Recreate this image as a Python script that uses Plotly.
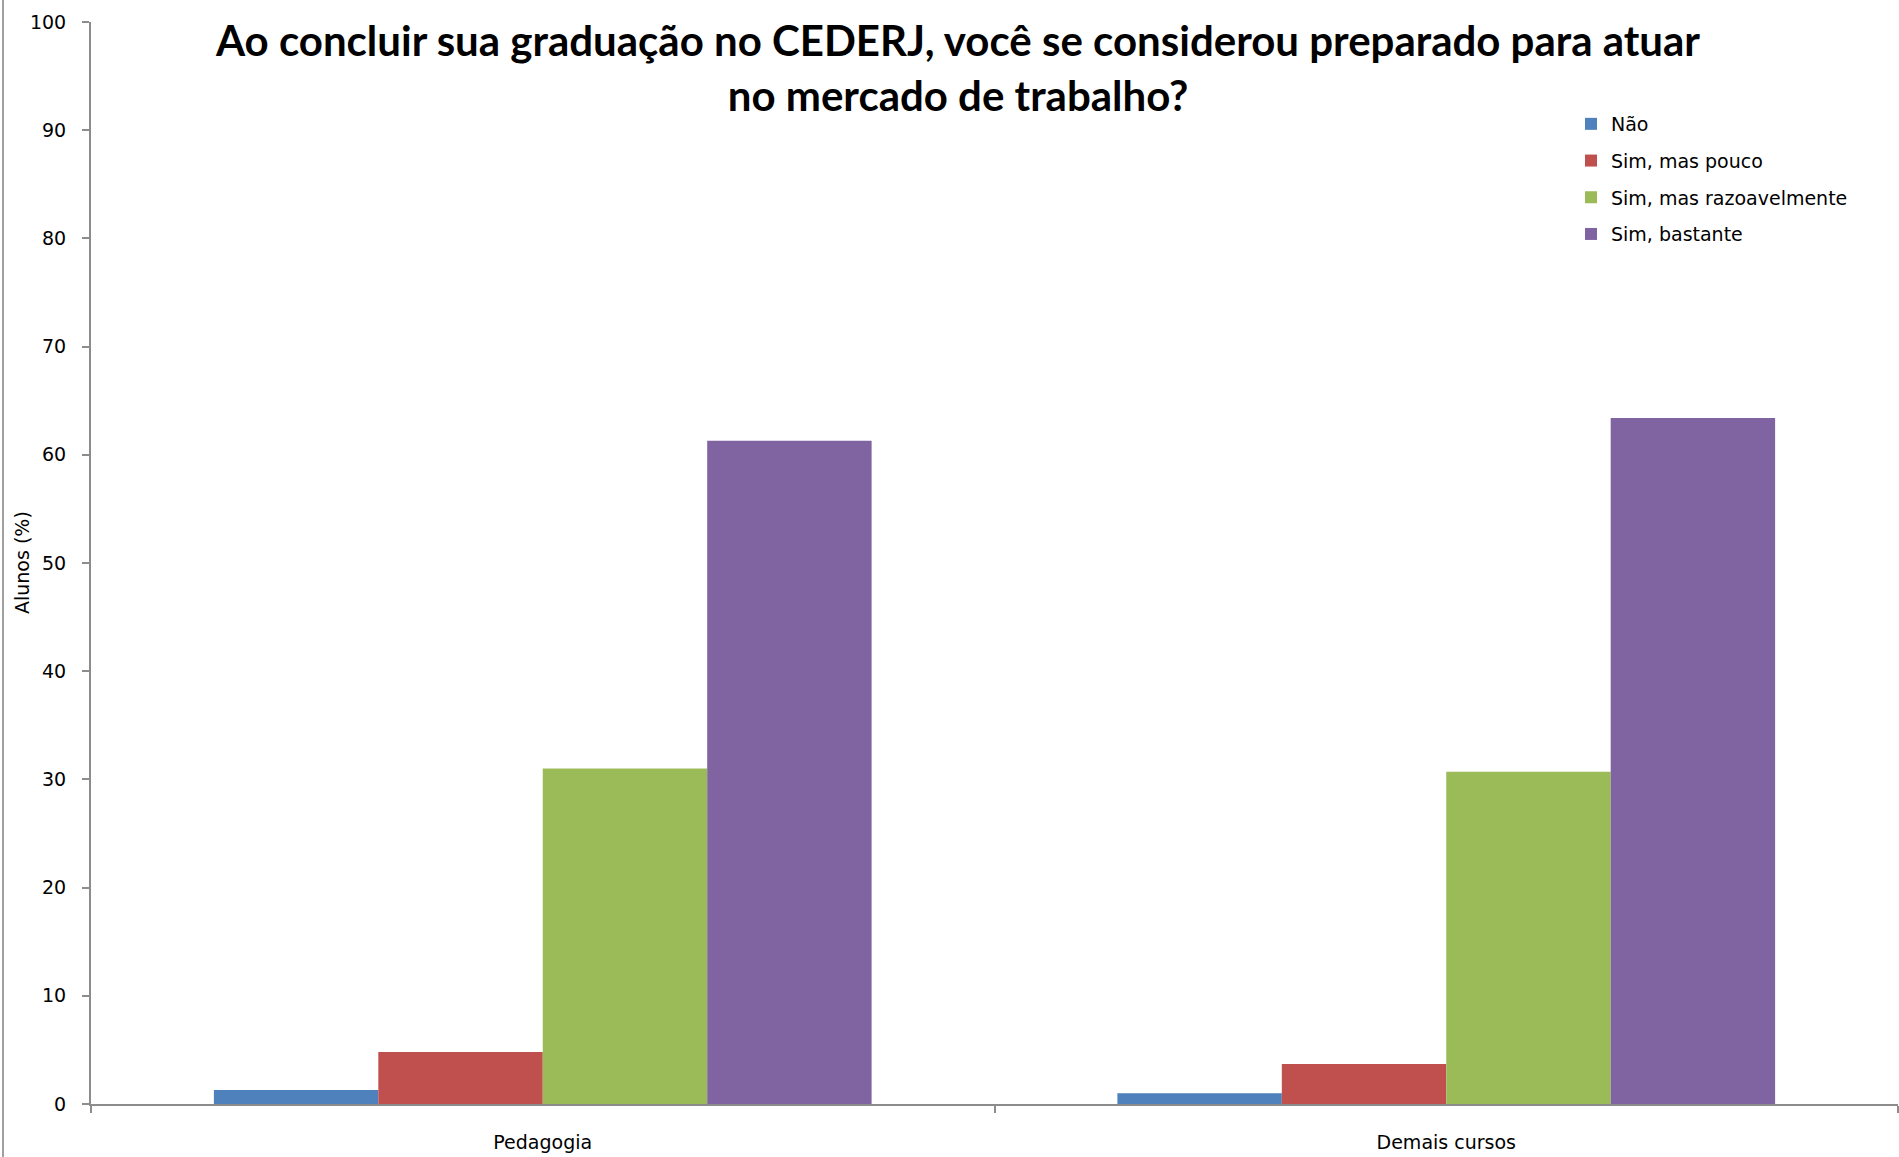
import plotly.graph_objects as go

categories = ["Pedagogia", "Demais cursos"]
series_names = ["Não", "Sim, mas pouco", "Sim, mas razoavelmente", "Sim, bastante"]
nao = [1.3, 1.0]
sim_pouco = [4.8, 3.7]
sim_razoavel = [31.0, 30.7]
sim_bastante = [61.3, 63.4]
colors = ["#4F81BD", "#C0504D", "#9BBB59", "#8064A2"]
y_ticks = list(range(0, 101, 10))

title_text = ("Ao concluir sua graduação no CEDERJ, você se considerou preparado para atuar"
              "<br>no mercado de trabalho?")

fig = go.Figure()
for i, (name, vals) in enumerate(zip(series_names, [nao, sim_pouco, sim_razoavel, sim_bastante])):
    fig.add_trace(go.Bar(
        x=categories, y=vals, name=name,
        marker=dict(color=colors[i], line=dict(width=0)),
        legendgroup=f"g{i}",
    ))

W, H = 1899, 1157
L, R, T, B = 91, 1, 22, 53
PW, PH = W - L - R, H - T - B


def px_x(px):
    return (px - L) / PW


def px_y(py):
    return (H - B - py) / PH


BODY_FONT = "DejaVu Sans, Verdana, sans-serif"

fig.update_layout(
    width=W, height=H,
    margin=dict(l=L, r=R, t=T, b=B, autoexpand=False),
    paper_bgcolor="white", plot_bgcolor="white",
    barmode="group", bargap=0.272, bargroupgap=0,
    font=dict(family=BODY_FONT, size=18, color="#000000"),
    showlegend=True,
    legend=dict(
        x=px_x(1571), xanchor="left", y=px_y(105), yanchor="top",
        font=dict(family=BODY_FONT, size=19, color="#000000"),
        tracegroupgap=9,
        bgcolor="rgba(0,0,0,0)",
        itemwidth=30,
    ),
    annotations=[
        dict(
            text=title_text, showarrow=False,
            xref="paper", yref="paper",
            x=px_x(957), xanchor="center", y=px_y(13), yanchor="top",
            align="center",
            font=dict(family="Lato, Liberation Sans, sans-serif", size=42, color="#000000", weight="bold"),
        ),
        dict(
            text="Alunos (%)", showarrow=False, textangle=-90,
            xref="paper", yref="paper",
            x=px_x(22), xanchor="center", y=px_y(563), yanchor="middle",
            font=dict(family=BODY_FONT, size=19, color="#000000"),
        ),
    ],
    xaxis=dict(
        type="category",
        showline=True, linecolor="#8C8C8C", linewidth=2,
        ticks="outside", ticklen=7, tickwidth=2, tickcolor="#8C8C8C",
        tickson="boundaries",
        showgrid=False, zeroline=False,
        tickfont=dict(family=BODY_FONT, size=19),
        ticklabelstandoff=20,
    ),
    yaxis=dict(
        range=[0, 100], tickvals=y_ticks,
        showline=True, linecolor="#8C8C8C", linewidth=2,
        ticks="outside", ticklen=7, tickwidth=2, tickcolor="#8C8C8C",
        showgrid=False, zeroline=False,
        tickfont=dict(family=BODY_FONT, size=19),
        ticklabelstandoff=12,
    ),
    shapes=[dict(type="line", xref="paper", yref="paper",
                 x0=px_x(3), x1=px_x(3), y0=-0.2, y1=1.05,
                 line=dict(color="#A0A0A0", width=2))],
)

fig.write_html("out.html", config={"displayModeBar": False},
               post_script="document.body.style.margin='0';")
